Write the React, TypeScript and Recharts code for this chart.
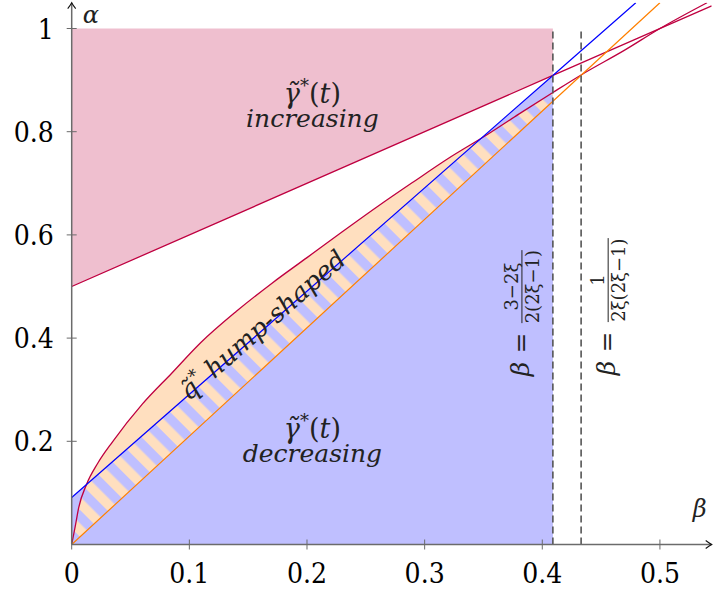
import React from "react";
import { ComposedChart, XAxis, YAxis, Area, Line, ReferenceDot } from "recharts";

const FONT = "DejaVu Serif, Liberation Serif, Noto Serif, serif";
const AXIS = "#6b6b6b";
const INK = "#222";

const xTicks = [0, 0.1, 0.2, 0.3, 0.4, 0.5];
const yTicks = [0.2, 0.4, 0.6, 0.8, 1];

// the two dashed bounds on beta
const betaLeft = 0.409;
const betaRight = 0.433;

const pinkLine = [
  { b: 0, a: 0.5 },
  { b: 0.409, a: 0.909 },
  { b: 0.544, a: 1.044 },
];
const pinkBand = [
  { b: 0, r: [0.5, 1] },
  { b: 0.409, r: [0.909, 1] },
];
const blueLine = [
  { b: 0, a: 0.091 },
  { b: 0.409, a: 0.909 },
  { b: 0.4795, a: 1.05 },
];
const orangeLine = [
  { b: 0, a: 0 },
  { b: 0.409, a: 0.859 },
  { b: 0.5, a: 1.05 },
];
const redCurve = [
  { b: 0, a: 0 },
  { b: 0.003, a: 0.035 },
  { b: 0.006, a: 0.072 },
  { b: 0.0125, a: 0.116 },
  { b: 0.022, a: 0.157 },
  { b: 0.035, a: 0.2 },
  { b: 0.06, a: 0.272 },
  { b: 0.085, a: 0.332 },
  { b: 0.11, a: 0.392 },
  { b: 0.14, a: 0.452 },
  { b: 0.17, a: 0.506 },
  { b: 0.2, a: 0.556 },
  { b: 0.23, a: 0.606 },
  { b: 0.26, a: 0.655 },
  { b: 0.29, a: 0.702 },
  { b: 0.32, a: 0.748 },
  { b: 0.353, a: 0.794 },
  { b: 0.38, a: 0.834 },
  { b: 0.409, a: 0.876 },
  { b: 0.433, a: 0.91 },
  { b: 0.47, a: 0.958 },
  { b: 0.5, a: 1.0 },
  { b: 0.54, a: 1.05 },
];

const dashA = [
  { b: betaLeft, a: 0 },
  { b: betaLeft, a: 1 },
];
const dashB = [
  { b: betaRight, a: 0 },
  { b: betaRight, a: 1 },
];

const upTo = (pts: { b: number; a: number }[]) => pts.filter((p) => p.b <= betaLeft);

const txt = { fontFamily: FONT };
const tickTxt = { fontFamily: FONT, fontStretch: "condensed" as const };

const XTick = ({ x, y, payload }: any) => (
  <g>
    <line x1={x} x2={x} y1={y - 5} y2={y + 5} stroke={AXIS} strokeWidth={1} />
    <text x={x} y={y + 38} textAnchor="middle" fontSize={28} style={tickTxt} fill="#000">
      {String(payload.value)}
    </text>
  </g>
);

const YTick = ({ x, y, payload }: any) => (
  <g>
    <line x1={x - 5} x2={x + 5} y1={y} y2={y} stroke={AXIS} strokeWidth={1} />
    <text x={x - 18} y={y + 10} textAnchor="end" fontSize={28} style={tickTxt} fill="#000">
      {String(payload.value)}
    </text>
  </g>
);

// two-line label: gamma-tilde-star(t) over an italic word
const Regime = (word: string) => ({ cx, cy }: any) => (
  <text x={cx} y={cy} textAnchor="middle" fontSize={27} style={txt} fill={INK}>
    <tspan fontStyle="italic">γ̃</tspan>
    <tspan fontSize={18} dy={-11}>*</tspan>
    <tspan dy={11}>(</tspan>
    <tspan fontStyle="italic">t</tspan>
    <tspan>)</tspan>
    <tspan x={cx} dy={24} fontSize={25} fontStyle="italic">
      {word}
    </tspan>
  </text>
);

const Hump = ({ cx, cy }: any) => (
  <text
    transform={`translate(${cx},${cy}) rotate(-41.3)`}
    x={0}
    y={5}
    textAnchor="middle"
    fontSize={26}
    fontStyle="italic"
    style={txt}
    fill={INK}
  >
    <tspan>q̃</tspan>
    <tspan fontSize={17} dy={-11}>*</tspan>
    <tspan dy={11}> hump-shaped</tspan>
  </text>
);

const Frac = (num: string, den: string, barLen: number) => ({ cx, cy }: any) => (
  <g transform={`translate(${cx},${cy}) rotate(-90)`} style={txt} fill={INK}>
    <text x={-46} y={7} textAnchor="middle" fontSize={25} fontStyle="italic">
      β
    </text>
    <text x={-20} y={7} textAnchor="middle" fontSize={25}>
      =
    </text>
    <line x1={0} x2={barLen} y1={0} y2={0} stroke={INK} strokeWidth={1} />
    <text x={barLen / 2} y={-4} textAnchor="middle" fontSize={18}>
      {num}
    </text>
    <text x={barLen / 2} y={17} textAnchor="middle" fontSize={18}>
      {den}
    </text>
  </g>
);

const ArrowUp = ({ cx, cy }: any) => (
  <path
    d={`M${cx - 4} ${cy + 6} Q${cx - 1} ${cy + 2} ${cx} ${cy} Q${cx + 1} ${cy + 2} ${cx + 4} ${cy + 6}`}
    stroke="#111"
    strokeWidth={1.1}
    fill="none"
  />
);
const ArrowRight = ({ cx, cy }: any) => (
  <path
    d={`M${cx - 6} ${cy - 4} Q${cx - 2} ${cy - 1} ${cx} ${cy} Q${cx - 2} ${cy + 1} ${cx - 6} ${cy + 4}`}
    stroke="#111"
    strokeWidth={1.1}
    fill="none"
  />
);

const AxisName = (name: string, dx: number, dy: number, anchor: string) => ({ cx, cy }: any) => (
  <text x={cx + dx} y={cy + dy} textAnchor={anchor} fontSize={24} fontStyle="italic" style={txt} fill={INK}>
    {name}
  </text>
);

export default function App() {
  return (
    <div style={{ position: "absolute", left: 0, top: 0, fontFamily: FONT }}>
      <ComposedChart width={715} height={592} margin={{ top: 2.7, right: 3.3, bottom: 0, left: 0 }}>
        <defs>
          <pattern id="hatch" patternUnits="userSpaceOnUse" width={19} height={19} patternTransform="rotate(-45)">
            <rect x={0} y={0} width={9.5} height={19} fill="#ffdfbf" />
          </pattern>
        </defs>
        <XAxis
          type="number"
          dataKey="b"
          domain={[0, 0.544]}
          ticks={xTicks}
          allowDataOverflow
          height={47.5}
          tickSize={0}
          tickMargin={0}
          tickLine={false}
          tick={<XTick />}
          axisLine={{ stroke: AXIS, strokeWidth: 1.5 }}
        />
        <YAxis
          type="number"
          domain={[0, 1.05]}
          ticks={yTicks}
          allowDataOverflow
          width={71.7}
          tickSize={0}
          tickMargin={0}
          tickLine={false}
          tick={<YTick />}
          axisLine={{ stroke: AXIS, strokeWidth: 1.5 }}
        />

        <Area data={pinkBand} dataKey="r" type="linear" fill="#efbfcf" fillOpacity={1} stroke="none" isAnimationActive={false} />
        <Area data={upTo(redCurve)} dataKey="a" type="monotone" fill="#ffdfbf" fillOpacity={1} stroke="none" isAnimationActive={false} />
        <Area data={upTo(blueLine)} dataKey="a" type="linear" fill="#bfbfff" fillOpacity={1} stroke="none" isAnimationActive={false} />
        <Area data={upTo(redCurve)} dataKey="a" type="monotone" fill="url(#hatch)" fillOpacity={1} stroke="none" isAnimationActive={false} />
        <Area data={upTo(orangeLine)} dataKey="a" type="linear" fill="#bfbfff" fillOpacity={1} stroke="none" isAnimationActive={false} />

        <Line data={pinkLine} dataKey="a" type="linear" stroke="#bf0040" strokeWidth={1.3} dot={false} isAnimationActive={false} />
        <Line data={redCurve} dataKey="a" type="monotone" stroke="#bf0040" strokeWidth={1.3} dot={false} isAnimationActive={false} />
        <Line data={blueLine} dataKey="a" type="linear" stroke="#0000ff" strokeWidth={1.2} dot={false} isAnimationActive={false} />
        <Line data={orangeLine} dataKey="a" type="linear" stroke="#ff8000" strokeWidth={1.2} dot={false} isAnimationActive={false} />
        <Line data={dashA} dataKey="a" type="linear" stroke="#555" strokeWidth={1.6} strokeDasharray="7 4" dot={false} isAnimationActive={false} />
        <Line data={dashB} dataKey="a" type="linear" stroke="#555" strokeWidth={1.6} strokeDasharray="7 4" dot={false} isAnimationActive={false} />

        <ReferenceDot x={0} y={1.05} ifOverflow="visible" shape={ArrowUp} />
        <ReferenceDot x={0.544} y={0} ifOverflow="visible" shape={ArrowRight} />
        <ReferenceDot x={0} y={1} ifOverflow="visible" shape={AxisName("α", 11, -6, "start")} />
        <ReferenceDot x={0.544} y={0} ifOverflow="visible" shape={AxisName("β", -5, -28, "end")} />

        <ReferenceDot x={0.2046} y={0.8556} ifOverflow="visible" shape={Regime("increasing")} />
        <ReferenceDot x={0.2046} y={0.2064} ifOverflow="visible" shape={Regime("decreasing")} />
        <ReferenceDot x={0.1644} y={0.4197} ifOverflow="visible" shape={Hump} />
        <ReferenceDot x={0.3827} y={0.429} ifOverflow="visible" shape={Frac("3−2ξ", "2(2ξ−1)", 73)} />
        <ReferenceDot x={0.456} y={0.431} ifOverflow="visible" shape={Frac("1", "2ξ(2ξ−1)", 84)} />
      </ComposedChart>
    </div>
  );
}
